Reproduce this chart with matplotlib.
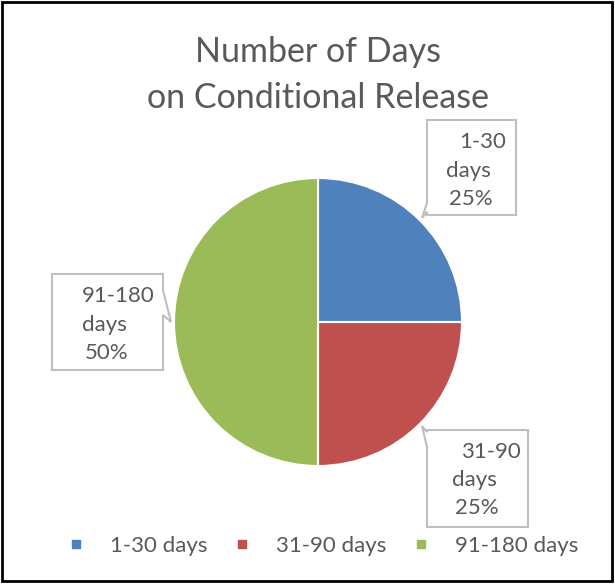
import numpy as np
import matplotlib
matplotlib.use("Agg")
import matplotlib.pyplot as plt
from matplotlib.patches import Polygon, Rectangle
from matplotlib.lines import Line2D

plt.rcParams['font.family'] = ['Lato', 'DejaVu Sans']

# data
categories = ['1-30 days', '31-90 days', '91-180 days']
shares = [25, 25, 50]
colors = ['#4F81BD', '#C0504D', '#9BBB59']
title = 'Number of Days\non Conditional Release'
text_col = '#595959'

W, H = 615, 584
fig = plt.figure(figsize=(W / 100, H / 100), dpi=100)
ax = fig.add_axes([0, 0, 1, 1])

def Y(y):
    # image row -> data y
    return H - y

cx, cy, r = 318, Y(322), 144
wedges, _ = ax.pie(shares, colors=colors, startangle=90, counterclock=False,
                   center=(cx, cy), radius=r, frame=True,
                   wedgeprops=dict(edgecolor='white', linewidth=1.5))
ax.set_xlim(0, W)
ax.set_ylim(0, H)
ax.set_aspect('equal')
ax.axis('off')

# outer black frame
ax.add_patch(Rectangle((2, Y(581)), 610, 579, fill=False, ec='black', lw=2))

ax.text(318, Y(75), title, ha='center', va='center', fontsize=24.5,
        color=text_col, linespacing=1.55)

# callout boxes: (left, top, right, bottom) in image px, pointer base on a side
boxes = [
    dict(box=(427, 120, 516, 215), side='left', base=(203, 212)),
    dict(box=(427, 430, 528, 527), side='left', base=(432, 447)),
    dict(box=(52, 274, 163, 370), side='right', base=(290, 315)),
]
lines_pos = [
    [('1-30', 483, 142), ('days', 468, 171), ('25%', 471, 199)],
    [('31-90', 491, 452), ('days', 474, 480), ('25%', 477, 508)],
    [('91-180', 118, 296), ('days', 104, 325), ('50%', 107, 353)],
]

for w, b, lines in zip(wedges, boxes, lines_pos):
    mid = np.deg2rad((w.theta1 + w.theta2) / 2)
    tip = (cx + (r + 3) * np.cos(mid), cy + (r + 3) * np.sin(mid))
    x0, y0, x1, y1 = b['box']
    b0, b1 = b['base']
    if b['side'] == 'left':
        pts = [(x0, Y(y0)), (x1, Y(y0)), (x1, Y(y1)), (x0, Y(y1)),
               (x0, Y(b1)), tip, (x0, Y(b0))]
    else:
        pts = [(x0, Y(y0)), (x1, Y(y0)), (x1, Y(b0)), tip, (x1, Y(b1)),
               (x1, Y(y1)), (x0, Y(y1))]
    ax.add_patch(Polygon(pts, closed=True, fc='white', ec='#BFBFBF', lw=1.5,
                         zorder=3))
    for s, tx, ty in lines:
        ax.text(tx, Y(ty), s, ha='center', va='center', fontsize=16,
                color=text_col, zorder=4)

handles = [Line2D([], [], marker='s', ls='', color=c, markersize=6)
           for c in colors]
leg = ax.legend(handles, categories, loc='center', ncol=3,
                bbox_to_anchor=(324 / W, 1 - 546 / H), frameon=False,
                fontsize=16, handlelength=0.6, handletextpad=1.23,
                columnspacing=1.27, labelcolor=text_col)

fig.savefig('out.png', dpi=100)
